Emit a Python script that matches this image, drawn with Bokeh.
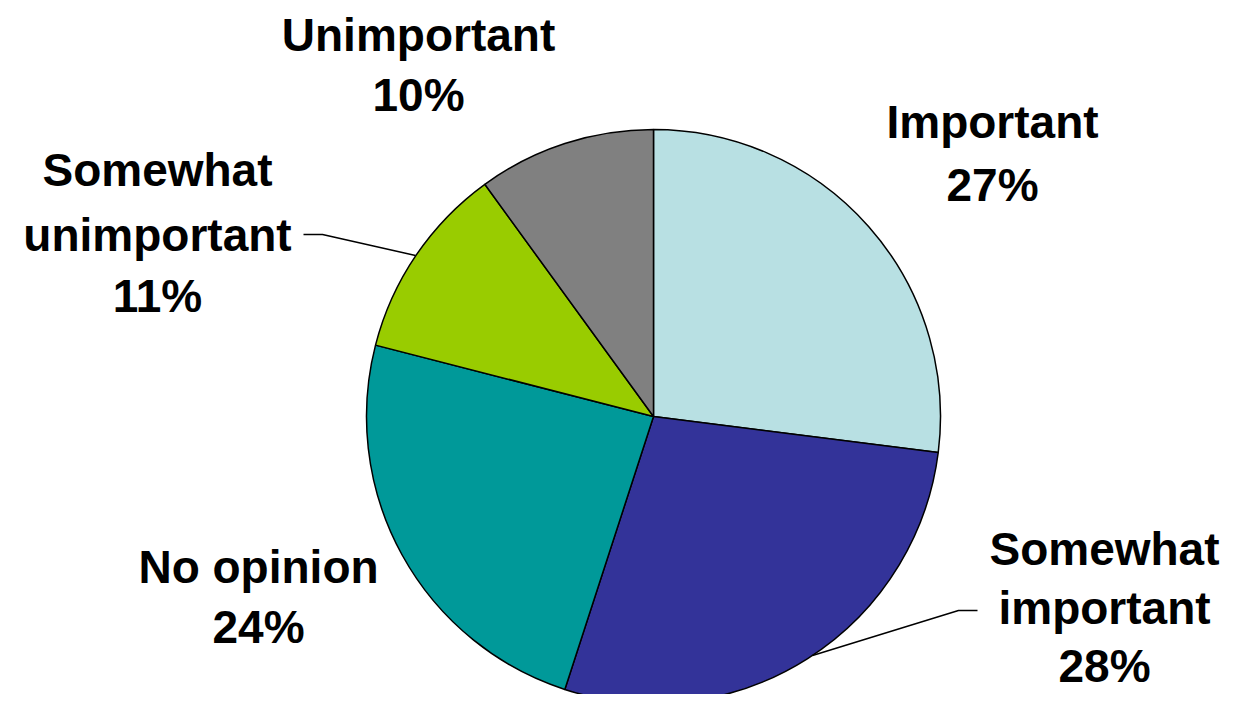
import math
from bokeh.plotting import figure
from bokeh.models import Range1d, ColumnDataSource
from bokeh.core.properties import value
from bokeh.embed import file_html
from bokeh.resources import INLINE

# ---- data ----
categories = ["Important", "Somewhat important", "No opinion", "Somewhat unimportant", "Unimportant"]
shares = [27, 28, 24, 11, 10]
colors = ["#B8E0E3", "#333399", "#009999", "#99CC00", "#808080"]
label_lines = [["Important", "27%"], ["Somewhat", "important", "28%"], ["No opinion", "24%"],
               ["Somewhat", "unimportant", "11%"], ["Unimportant", "10%"]]

# ---- layout (page pixel coordinates; y measured downward) ----
W, H = 1223, 694
cx, cy, R = 653, 416, 287
TEXT_DY = 16
label_pos = [  # (center x, list of baselines)
    (992, [137, 200]),
    (1104, [564, 623, 681]),
    (258, [582, 642]),
    (157, [185, 250, 311]),
    (418, [50, 110]),
]

p = figure(width=W, height=H, output_backend="svg", toolbar_location=None,
           x_range=Range1d(0, W), y_range=Range1d(-H, 0),
           min_border=0, outline_line_color=None)
p.axis.visible = False
p.grid.visible = False
p.background_fill_color = "white"
p.border_fill_color = "white"

total = float(sum(shares))
starts, ends = [], []
cum = 0.0
for s in shares:
    a0 = math.pi / 2 - 2 * math.pi * (cum + s) / total
    a1 = math.pi / 2 - 2 * math.pi * cum / total
    starts.append(a0)
    ends.append(a1)
    cum += s

src = ColumnDataSource(dict(x=[cx] * len(shares), y=[-cy] * len(shares),
                            start=starts, end=ends, color=colors, cat=categories))
p.wedge(x="x", y="y", radius=R, start_angle="start", end_angle="end",
        fill_color="color", line_color="black", line_width=1.5, source=src)

# leader lines
p.line(x=[303, 322, 415], y=[-234, -234, -255], line_color="black", line_width=1.5)
p.line(x=[812, 958, 977], y=[-655, -610, -610], line_color="black", line_width=1.5)

tx, ty, tt = [], [], []
for (lx, bases), lines in zip(label_pos, label_lines):
    for b, t in zip(bases, lines):
        tx.append(lx)
        ty.append(-(b - TEXT_DY))
        tt.append(t)
p.text(x=tx, y=ty, text=tt, text_font=value("Liberation Sans"), text_font_style="bold",
       text_font_size="46px", text_align="center", text_baseline="alphabetic", text_color="black")

open("out.html", "w").write(file_html(p, INLINE))
